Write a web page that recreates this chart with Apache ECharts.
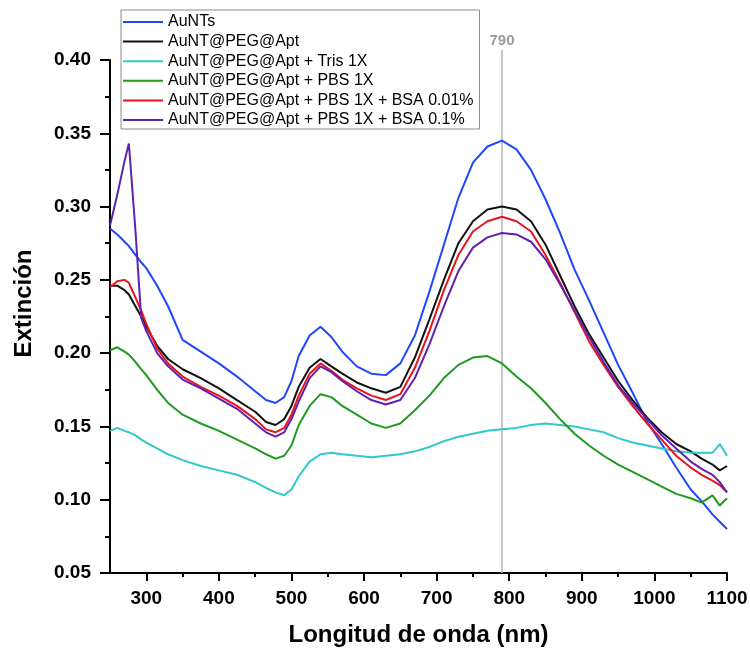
<!DOCTYPE html>
<html>
<head>
<meta charset="utf-8">
<script src="https://cdn.jsdelivr.net/npm/echarts@6/dist/echarts.min.js"></script>
<style>
html,body{margin:0;padding:0;background:#fff;}
#chart{width:750px;height:653px;}
</style>
</head>
<body>
<div id="chart"></div>
<script>
// ---- data ----
const wavelengths = [250,260,270,276,285,293,300,315,330,350,375,400,425,450,465,478,490,500,510,525,540,555,570,590,610,630,650,670,690,710,730,750,770,790,810,830,850,870,890,910,930,950,970,990,1010,1030,1050,1065,1080,1090,1100];

const auNTs = [.285,.281,.276,.273,.267,.262,.258,.246,.232,.209,.201,.193,.184,.174,.168,.166,.170,.181,.198,.212,.218,.211,.201,.191,.186,.185,.193,.212,.242,.274,.306,.330,.341,.345,.339,.325,.305,.282,.257,.236,.214,.192,.173,.153,.138,.122,.107,.099,.090,.085,.080];
const auPegApt = [.246,.246,.243,.240,.232,.225,.218,.205,.196,.189,.183,.176,.168,.160,.153,.151,.155,.164,.177,.190,.196,.191,.186,.180,.176,.173,.177,.197,.223,.250,.275,.290,.298,.300,.298,.290,.274,.253,.232,.213,.197,.181,.168,.156,.146,.138,.133,.128,.124,.120,.123];
const auTris = [.147,.149,.147,.146,.144,.141,.139,.135,.131,.127,.123,.120,.117,.112,.108,.105,.103,.107,.116,.126,.131,.132,.131,.130,.129,.130,.131,.133,.136,.140,.143,.145,.147,.148,.149,.151,.152,.151,.150,.148,.146,.142,.139,.137,.135,.133,.132,.132,.132,.138,.130];
const auPbs = [.202,.204,.201,.199,.194,.189,.185,.175,.166,.158,.152,.147,.141,.135,.131,.128,.130,.137,.151,.164,.172,.170,.164,.158,.152,.149,.152,.161,.171,.183,.192,.197,.198,.193,.184,.176,.166,.155,.145,.137,.130,.124,.119,.114,.109,.104,.101,.098,.103,.096,.101];
const auPbsBsa001 = [.245,.249,.250,.248,.238,.229,.220,.203,.193,.184,.177,.171,.164,.155,.148,.146,.149,.158,.171,.186,.193,.188,.182,.176,.171,.168,.172,.190,.215,.243,.267,.283,.290,.293,.290,.283,.267,.248,.228,.208,.192,.177,.164,.152,.141,.130,.122,.117,.113,.110,.105];
const auPbsBsa01 = [.287,.308,.331,.343,.284,.224,.215,.200,.191,.182,.176,.169,.162,.152,.146,.143,.146,.155,.167,.183,.191,.187,.181,.174,.168,.165,.168,.183,.206,.232,.256,.272,.279,.282,.281,.276,.264,.247,.229,.211,.194,.178,.166,.155,.144,.135,.126,.121,.117,.112,.105];

const seriesNames = ['AuNTs','AuNT@PEG@Apt','AuNT@PEG@Apt + Tris 1X','AuNT@PEG@Apt + PBS 1X','AuNT@PEG@Apt + PBS 1X + BSA 0.01%','AuNT@PEG@Apt + PBS 1X + BSA 0.1%'];
const seriesValues = [auNTs, auPegApt, auTris, auPbs, auPbsBsa001, auPbsBsa01];
const seriesColors = ['#1e46ff','#111111','#30c8c8','#1f9a1f','#e8141c','#6020b0'];

const xMajorTicks = [300,400,500,600,700,800,900,1000,1100];
const xMinorTicks = [350,450,550,650,750,850,950,1050];
const markWavelength = 790;
const markLineFrom = 0.05;
const markLineTo = 0.407;

// ---- chart ----
const FONT = 'Liberation Sans, Arial, sans-serif';
const chart = echarts.init(document.getElementById('chart'), null, {renderer:'canvas'});

const series = seriesNames.map((name, i) => ({
  name,
  type: 'line',
  xAxisIndex: 0, yAxisIndex: 0,
  data: wavelengths.map((w, k) => [w, seriesValues[i][k]]),
  symbol: 'none',
  showSymbol: false,
  clip: false,
  lineStyle: {color: seriesColors[i], width: 2},
  itemStyle: {color: seriesColors[i]},
  z: 2 + i
}));

const axisLineStyle = {color: '#000', width: 2};

chart.setOption({
  animation: false,
  backgroundColor: '#fff',
  grid: [
    {left: 110, right: 23, top: 60, bottom: 80, containLabel: false, outerBoundsMode: 'none'},
    {left: 110, right: 23, top: 60, bottom: 80, containLabel: false, outerBoundsMode: 'none'}
  ],
  legend: {
    orient: 'vertical',
    left: 121, top: 10,
    padding: [4, 6, 1, 2],
    icon: 'rect',
    itemWidth: 40, itemHeight: 2, itemGap: 3.6,
    borderColor: '#8c8c8c', borderWidth: 1,
    data: seriesNames,
    textStyle: {fontSize: 16, color: '#000', fontFamily: FONT}
  },
  xAxis: [
    {
      type: 'value', gridIndex: 0, min: 250, max: 1100, interval: 50,
      name: 'Longitud de onda (nm)', nameLocation: 'middle', nameGap: 50,
      nameTextStyle: {fontSize: 24, fontWeight: 'bold', color: '#000', fontFamily: FONT},
      axisLine: {show: true, lineStyle: axisLineStyle},
      axisTick: {show: true, length: 8, lineStyle: axisLineStyle, customValues: xMajorTicks},
      axisLabel: {show: true, margin: 16, fontSize: 19, fontWeight: 'bold', color: '#000', fontFamily: FONT,
        customValues: xMajorTicks, formatter: v => String(v)},
      splitLine: {show: false}
    },
    {
      type: 'value', gridIndex: 1, min: 250, max: 1100, interval: 50,
      axisLine: {show: false},
      axisTick: {show: true, length: 4, lineStyle: axisLineStyle, customValues: xMinorTicks},
      axisLabel: {show: false},
      splitLine: {show: false}
    }
  ],
  yAxis: [
    {
      type: 'value', gridIndex: 0, min: 0.05, max: 0.40, interval: 0.05,
      name: 'Extinción', nameLocation: 'middle', nameGap: 74,
      nameTextStyle: {fontSize: 24, fontWeight: 'bold', color: '#000', fontFamily: FONT, padding: [0, 0, 0, 26]},
      axisLine: {show: true, lineStyle: axisLineStyle},
      axisTick: {show: true, length: 10, lineStyle: axisLineStyle},
      minorTick: {show: true, splitNumber: 2, length: 5, lineStyle: axisLineStyle},
      axisLabel: {show: true, margin: 19, fontSize: 19, fontWeight: 'bold', color: '#000', fontFamily: FONT,
        formatter: v => v.toFixed(2)},
      splitLine: {show: false}, minorSplitLine: {show: false}
    },
    {
      type: 'value', gridIndex: 1, min: 0.05, max: 0.40, interval: 0.05, show: false
    }
  ],
  series
});

// vertical reference line at 790 nm, positioned through the chart's own scales
const pBottom = chart.convertToPixel({xAxisIndex: 0, yAxisIndex: 0}, [markWavelength, markLineFrom]);
const pTop = chart.convertToPixel({xAxisIndex: 0, yAxisIndex: 0}, [markWavelength, markLineTo]);
chart.setOption({
  graphic: [
    {type: 'line', z: 1, silent: true,
      shape: {x1: pBottom[0], y1: pBottom[1], x2: pTop[0], y2: pTop[1]},
      style: {stroke: '#b4b4b4', lineWidth: 1.5}},
    {type: 'text', z: 1, silent: true, x: pTop[0], y: pTop[1] - 1,
      style: {text: String(markWavelength), fill: '#9a9a9a', font: 'bold 15px Liberation Sans, Arial, sans-serif',
        align: 'center', verticalAlign: 'bottom', textAlign: 'center', textVerticalAlign: 'bottom'}}
  ]
});
</script>
</body>
</html>
